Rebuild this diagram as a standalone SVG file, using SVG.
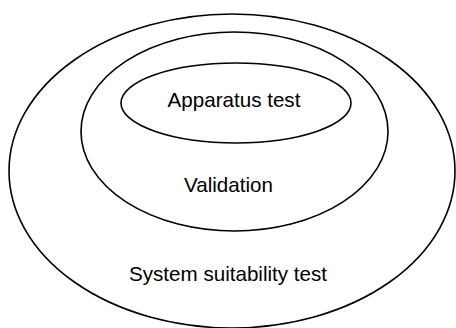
<svg xmlns="http://www.w3.org/2000/svg" width="456" height="328" viewBox="0 0 456 328">
<style>
.e{fill:none;stroke:#000;stroke-width:1.6}
.t{font-family:"Liberation Sans",Arial,sans-serif;font-size:20.6px;fill:#000;text-anchor:middle}
</style>
<rect width="456" height="328" fill="#fff"/>
<g id="system-suitability">
<ellipse class="e" cx="232" cy="171" rx="223" ry="157"/>
<text class="t" x="228" y="281">System suitability test</text>
</g>
<g id="validation">
<ellipse class="e" cx="234.5" cy="131.5" rx="153.5" ry="99.5"/>
<text class="t" x="228.5" y="192">Validation</text>
</g>
<g id="apparatus">
<ellipse class="e" cx="236" cy="103" rx="115" ry="40"/>
<text class="t" x="234" y="107">Apparatus test</text>
</g>
<g id="connectors"/>
</svg>
